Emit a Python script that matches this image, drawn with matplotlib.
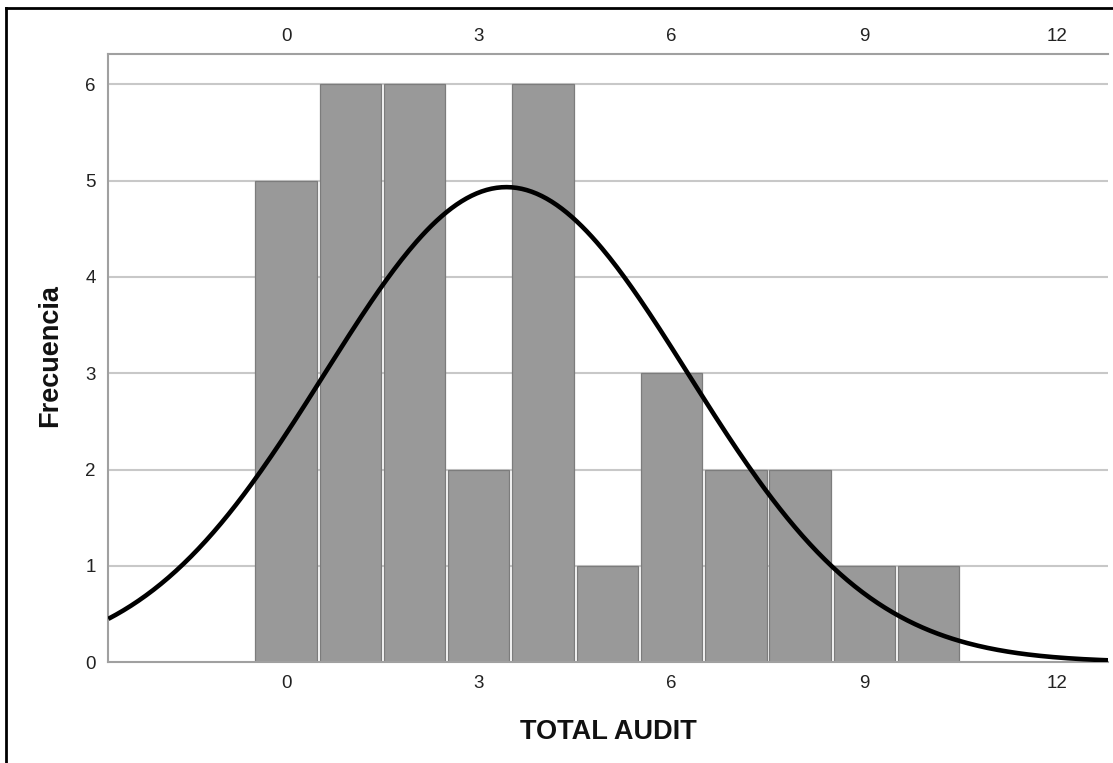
import numpy as np
import matplotlib.pyplot as plt
from matplotlib.lines import Line2D

plt.rcParams['font.family'] = ['Liberation Sans', 'DejaVu Sans']

# Frequency of each TOTAL AUDIT score
scores = [0, 1, 2, 3, 4, 5, 6, 7, 8, 9, 10]
counts = [5, 6, 6, 2, 6, 1, 3, 2, 2, 1, 1]
x_ticks = [0, 3, 6, 9, 12]
y_ticks = [0, 1, 2, 3, 4, 5, 6]

# Normal curve fitted to the same data
vals = np.repeat(scores, counts)
mu = vals.mean()
sd = vals.std(ddof=1)
n = len(vals)

W, H = 1113, 763
fig = plt.figure(figsize=(W / 100, H / 100), dpi=100)
ax = fig.add_axes([108.3 / W, 1 - 662.3 / H, (1108 - 108.3) / W, (662.3 - 54.3) / H])

xmin, xmax = -2.765, 12.79
ax.set_xlim(xmin, xmax)
ax.set_ylim(0, 6.31)

# light grid behind the bars
for y in y_ticks[1:]:
    ax.axhline(y, color='#c8c8c8', lw=1.5, zorder=0)

ax.bar(scores, counts, width=0.955, color='#999999', edgecolor='#7c7c7c',
       linewidth=0.9, zorder=2)

xs = np.linspace(xmin, xmax, 400)
ys = n * 1.0 / (sd * np.sqrt(2 * np.pi)) * np.exp(-0.5 * ((xs - mu) / sd) ** 2)
ax.plot(xs, ys, color='black', lw=3.3, zorder=3, solid_capstyle='butt')

ax.set_xticks(x_ticks)
ax.set_yticks(y_ticks)
ax.tick_params(axis='both', length=0, labelsize=13.5, labelcolor='#222222')
ax.tick_params(axis='x', pad=9)
ax.tick_params(axis='y', pad=9)

# same scale repeated along the top
top = ax.secondary_xaxis('top')
top.set_xticks(x_ticks)
top.tick_params(length=0, labelsize=13.5, labelcolor='#222222', pad=7)
top.spines['top'].set_visible(False)

for side in ['left', 'top', 'bottom']:
    ax.spines[side].set_color('#a0a0a0')
    ax.spines[side].set_linewidth(1.5)
ax.spines['right'].set_visible(False)

fig.text(50 / W, 1 - 356 / H, 'Frecuencia', rotation=90, ha='center', va='center',
         fontsize=19.5, fontweight='bold', color='#111111')
fig.text(608 / W, 1 - 732 / H, 'TOTAL AUDIT', ha='center', va='center',
         fontsize=19.5, fontweight='bold', color='#111111')

# outer frame
fig.add_artist(Line2D([6 / W, 6 / W], [0, 1 - 8 / H], color='black', lw=2,
                      transform=fig.transFigure))
fig.add_artist(Line2D([6 / W, 1], [1 - 8 / H, 1 - 8 / H], color='black', lw=2,
                      transform=fig.transFigure))

fig.savefig('out.png', dpi=100, facecolor='white')
